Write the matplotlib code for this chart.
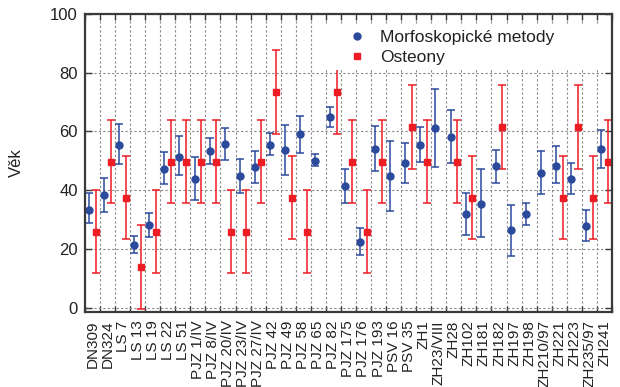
import numpy as np
import matplotlib
matplotlib.use("Agg")
import matplotlib.pyplot as plt
from matplotlib.lines import Line2D
from matplotlib.patches import Rectangle

plt.rcParams["font.family"] = ["Liberation Sans", "DejaVu Sans"]

# ─── Data ─────────────────────────────────────────────────────────────────────

SAMPLES = [
    "DN309", "DN324", "LS 7", "LS 13", "LS 19", "LS 22", "LS 51",
    "PJZ 1/IV", "PJZ 8/IV", "PJZ 20/IV", "PJZ 23/IV", "PJZ 27/IV",
    "PJZ 42", "PJZ 49", "PJZ 58", "PJZ 65", "PJZ 82", "PJZ 175",
    "PJZ 176", "PJZ 193", "PSV 16", "PSV 35", "ZH1", "ZH23/VIII",
    "ZH28", "ZH102", "ZH181", "ZH182", "ZH197", "ZH198", "ZH210/97",
    "ZH221", "ZH223", "ZH235/97", "ZH241",
]

# morphoscopic estimate: mean age with lower / upper bound
morfo_mean = [
    33.4, 38.3, 55.3, 21.3, 28.2, 47.4, 51.4,
    43.8, 53.2, 55.9, 44.7, 48.0,
    55.4, 53.6, 59.1, 50.0, 65.0, 41.5,
    22.4, 54.2, 44.7, 49.2, 55.4, 61.3,
    58.2, 31.9, 35.3, 48.3, 26.4, 31.9, 46.0,
    48.3, 43.8, 27.8, 54.2,
]
morfo_low = [
    29.0, 32.7, 48.9, 18.5, 24.1, 42.1, 45.2,
    36.7, 48.9, 50.3, 38.9, 42.6,
    51.9, 45.1, 52.8, 48.3, 61.6, 35.8,
    18.1, 46.5, 33.0, 42.6, 49.7, 48.0,
    49.4, 24.8, 24.1, 42.6, 17.6, 28.1, 38.7,
    42.4, 38.7, 22.8, 47.6,
]
morfo_high = [
    38.9, 44.3, 62.5, 24.4, 32.4, 53.1, 58.3,
    51.4, 57.9, 61.3, 50.6, 53.4,
    59.4, 62.2, 65.3, 52.3, 68.4, 47.4,
    27.0, 61.9, 56.8, 56.2, 61.6, 74.6,
    67.3, 39.0, 47.2, 53.7, 35.1, 35.7, 53.5,
    54.9, 49.2, 33.2, 60.6,
]

# osteon-based estimate (NaN = not determined)
osteon_mean = [
    25.9, 49.7, 37.5, 13.9, 25.9, 49.7, 49.7,
    49.7, 49.7, 25.9, 25.9, 49.7,
    73.5, 37.5, 25.9, np.nan, 73.5, 49.7,
    25.9, 49.7, np.nan, 61.5, 49.7, np.nan,
    49.7, 37.5, np.nan, 61.5, np.nan, np.nan, np.nan,
    37.5, 61.5, 37.5, 49.7,
]
OSTEON_ERR = 14.2

BLUE = "#2b4a9c"
RED = "#ee1d23"
DARK = "#3a3a3a"

# ─── Plot ─────────────────────────────────────────────────────────────────────

x = np.arange(len(SAMPLES))
m_mean = np.array(morfo_mean)
m_err = [m_mean - np.array(morfo_low), np.array(morfo_high) - m_mean]
o_mean = np.array(osteon_mean)

fig = plt.figure(figsize=(6.2, 3.87), dpi=100)
ax = fig.add_axes([0.137, 0.194, 0.850, 0.770])

ax.errorbar(x - 0.22, m_mean, yerr=m_err, fmt="o", color=BLUE, ecolor=BLUE,
            markersize=5, elinewidth=1.1, capsize=2.8, capthick=1.1)
ax.errorbar(x + 0.22, o_mean, yerr=OSTEON_ERR, fmt="s", color=RED, ecolor=RED,
            markersize=5, elinewidth=1.1, capsize=2.8, capthick=1.1)

ax.set_xlim(-0.5, len(SAMPLES) - 0.5)
ax.set_ylim(-1.4, 100)
ax.set_yticks(np.arange(0, 101, 20))

ax.set_xticks(x)
ax.set_xticklabels(SAMPLES, rotation=90, fontsize=11, color="#222222")
ax.set_xticks(np.arange(-0.5, len(SAMPLES), 1), minor=True)
ax.tick_params(axis="x", which="major", length=0, pad=6)
ax.tick_params(axis="x", which="minor", direction="in", length=4,
               top=True, bottom=True, width=1.0, color=DARK)
ax.tick_params(axis="y", direction="in", length=5, left=True, right=True,
               width=1.0, color=DARK, labelsize=12, labelcolor="#222222", pad=5)

ax.grid(axis="x", which="minor", linestyle=(0, (2, 2)), color="#8a8a8a", linewidth=0.8)
ax.grid(axis="y", which="major", linestyle=(0, (2, 2)), color="#8a8a8a", linewidth=0.8)
ax.set_axisbelow(True)

for s in ax.spines.values():
    s.set_color(DARK)
    s.set_linewidth(1.6)

ax.set_ylabel("Věk", fontsize=12, color="#222222")
ax.yaxis.set_label_coords(-0.116, 0.5)

# white patch behind the legend hides gridlines and bar ends
ax.add_patch(Rectangle((0.44, 0.812), 0.543, 0.151, transform=ax.transAxes,
                       facecolor="white", edgecolor="none", zorder=3))
handles = [
    Line2D([], [], linestyle="none", marker="o", color=BLUE, markersize=5),
    Line2D([], [], linestyle="none", marker="s", color=RED, markersize=5),
]
leg = ax.legend(handles, ["Morfoskopické metody", "Osteony"],
                loc="upper left", bbox_to_anchor=(0.484, 0.975),
                frameon=False, borderpad=0, handlelength=1.0,
                handletextpad=0.82, labelspacing=0.28, fontsize=12.5)
leg.set_zorder(5)
for t in leg.get_texts():
    t.set_color("#222222")

fig.savefig("out.png", dpi=100, facecolor="white")
